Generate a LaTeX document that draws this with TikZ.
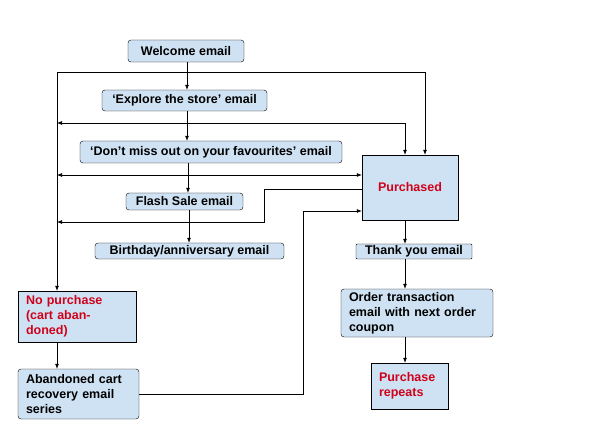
\documentclass[tikz,border=0pt]{standalone}
\usepackage{fontspec}
\setmainfont{Liberation Sans}
\usetikzlibrary{arrows.meta}

\definecolor{boxblue}{HTML}{CFE2F3}
\definecolor{textred}{HTML}{D0021B}

\tikzset{
    mailbox/.style={draw,fill=boxblue,rounded corners=3pt,inner sep=0pt,
        font=\bfseries\fontsize{12.5}{15}\selectfont},
    statebox/.style={mailbox,rounded corners=0pt,text=textred},
    leftbox/.style={inner xsep=8pt,align=left},
    flow/.style={-{Latex[length=5pt,width=4pt]},line width=0.7pt},
    twoway/.style={flow,{Latex[length=5pt,width=4pt]}-{Latex[length=5pt,width=4pt]}},
}

\begin{document}
\begin{tikzpicture}[x=1pt,y=-1pt]
    \useasboundingbox (0,0) rectangle (602,446);

    % email series
    \node[mailbox,minimum width=116,minimum height=22] (welcome) at (186,51) {Welcome email};
    \node[mailbox,minimum width=165,minimum height=21] (explore) at (184.5,100.5) {`Explore the store' email};
    \node[mailbox,minimum width=262,minimum height=22] (dontmiss) at (211,152) {`Don't miss out on your favourites' email};
    \node[mailbox,minimum width=117,minimum height=17] (flash) at (184.5,201.5) {Flash Sale email};
    \node[mailbox,minimum width=189,minimum height=16] (birthday) at (189.5,251) {Birthday/anniversary email};

    % purchase branch
    \node[statebox,minimum width=96,minimum height=65] (purchased) at (410,187.5) {Purchased};
    \node[mailbox,rounded corners=1pt,minimum width=116,minimum height=15] (thanks) at (414,251.5) {Thank you email};
    \node[mailbox,leftbox,text width=136,minimum height=48] (order) at (417,313) {Order transaction\\email with next order\\coupon};
    \node[statebox,leftbox,text width=61,minimum height=46] (repeats) at (409.5,386) {Purchase\\repeats};

    % no purchase branch
    \node[statebox,leftbox,text width=102,minimum height=51] (nopurchase) at (77,316.5) {No purchase\\(cart abandoned)};
    \node[mailbox,leftbox,text width=105,minimum height=50] (abandoned) at (78.5,394) {Abandoned cart\\recovery email\\series};

    % bus lines
    \coordinate (busL) at (57,72);
    \coordinate (busR) at (425,72);
    \coordinate (loopA) at (57,123);
    \coordinate (loopB) at (57,175);
    \coordinate (loopC) at (57,222);
    \coordinate (jogC) at (264,189);
    \coordinate (jogD) at (303,211);
    \coordinate (spine) at (187,0);
    \coordinate (stem) at (405,0);

    % series arrows
    \draw[flow] (welcome.south -| spine) -- (explore.north -| spine);
    \draw[flow] (explore.south -| spine) -- (dontmiss.north -| spine);
    \draw[flow] ([xshift=1]dontmiss.south -| spine) -- ([xshift=1]flash.north -| spine);
    \draw[flow] ([xshift=2]flash.south -| spine) -- ([xshift=2]birthday.north -| spine);

    \draw[line width=0.7pt] (busL -| spine) -- (busL);
    \draw[flow] (busL) -- (busL |- nopurchase.north);
    \draw[flow] (busL -| spine) -- (busR) -- (busR |- purchased.north);

    \draw[twoway] (loopA) -| (stem |- purchased.north);
    \draw[twoway] (loopB) -- (loopB -| purchased.west);
    \draw[flow,{Latex[length=5pt,width=4pt]}-] (loopC) -| (jogC) -- (jogC -| purchased.west);
    \draw[flow] (abandoned.east) -| (jogD) -- (jogD -| purchased.west);

    % purchase arrows
    \draw[flow] (purchased.south -| stem) -- (thanks.north -| stem);
    \draw[flow] (thanks.south -| stem) -- (order.north -| stem);
    \draw[flow] (order.south -| stem) -- (repeats.north -| stem);
    \draw[flow] (nopurchase.south -| busL) -- (abandoned.north -| busL);

\end{tikzpicture}
\end{document}
